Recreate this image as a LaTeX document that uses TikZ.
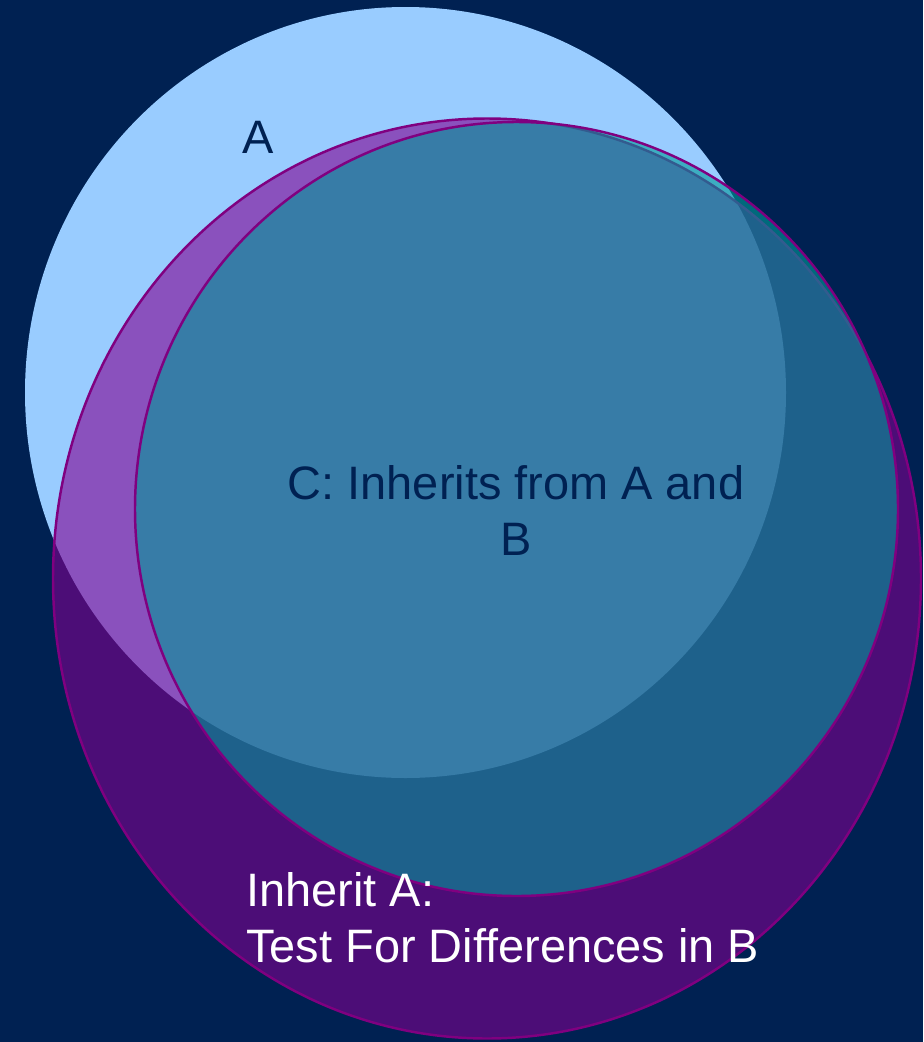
\documentclass[tikz,border=0pt]{standalone}
\usepackage{fontspec}
\setmainfont{Liberation Sans}
\definecolor{navybg}{RGB}{0,33,82}
\definecolor{setA}{RGB}{153,204,255}
\definecolor{setB}{RGB}{128,0,145}
\definecolor{setC}{RGB}{0,153,153}
\definecolor{rim}{RGB}{128,0,128}
\begin{document}
\begin{tikzpicture}[
    setlabel/.style={inner sep=0pt, font=\fontsize{26.7}{31.8}\selectfont, text=navybg},
    lightset/.style={fill=setA},
    seethrough/.style={fill opacity=0.6, draw=rim, line width=1.4pt}
]

% background
\fill[navybg] (0, 0) rectangle (18.46, -20.84);
\useasboundingbox (0, 0) rectangle (18.46, -20.84);

% A
\fill[lightset] (8.11, -7.85) ellipse [x radius=7.61, y radius=7.71];

% B (outer purple)
\draw[seethrough, fill=setB] (9.74, -11.57) ellipse [x radius=8.68, y radius=9.2];

% C
\draw[seethrough, fill=setC] (10.33, -10.18) ellipse [x radius=7.63, y radius=7.74];

% labels
\node[setlabel, anchor=base] (labA) at (5.16, -3.06) {A};
\node[setlabel, anchor=base, align=center] (labC) at (10.32, -11.1) {C: Inherits from A and\\B};
\node[setlabel, anchor=base west, align=left, text=white] (labInh) at (4.92, -19.24) {Inherit A:\\Test For Differences in B};

\end{tikzpicture}
\end{document}
